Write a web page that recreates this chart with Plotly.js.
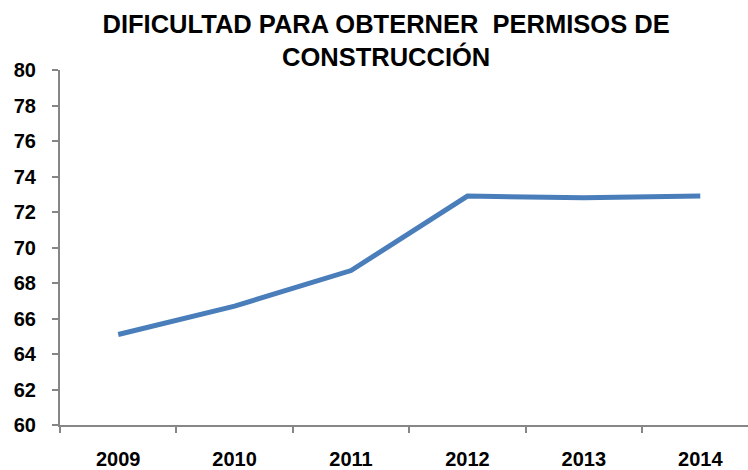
<!DOCTYPE html>
<html><head><meta charset="utf-8">
<script src="https://cdn.plot.ly/plotly-3.0.1.min.js"></script>
<style>html,body{margin:0;padding:0;background:#fff}#c{width:748px;height:470px}</style>
</head><body><div id="c"></div>
<script>
const years = ['2009','2010','2011','2012','2013','2014'];
const values = [65.1, 66.7, 68.7, 72.9, 72.8, 72.9];
const yTicks = [60,62,64,66,68,70,72,74,76,78,80];

const trace = {
  x: years, y: values, type: 'scatter', mode: 'lines',
  line: {color: '#4a7ebb', width: 5}, hoverinfo: 'skip'
};
const layout = {
  width: 748, height: 470,
  margin: {l: 60, r: 0, t: 70, b: 45},
  paper_bgcolor: '#fff', plot_bgcolor: '#fff',
  showlegend: false,
  font: {family: 'Liberation Sans, Arial, sans-serif', color: '#000'},
  title: {
    text: '<b>DIFICULTAD PARA OBTERNER  PERMISOS DE<br>CONSTRUCCIÓN</b>',
    font: {size: 25.5, family: 'Liberation Sans, Arial, sans-serif', color: '#000'},
    x: 0.474, xref: 'paper', xanchor: 'center', y: 0.93, yanchor: 'top', yref: 'container'
  },
  xaxis: {
    type: 'category', range: [-0.5, 5.41],
    tickson: 'boundaries', ticks: 'outside', ticklen: 6, tickcolor: '#868686', tickwidth: 2,
    showline: true, linecolor: '#868686', linewidth: 2,
    showgrid: false, zeroline: false,
    tickfont: {size: 20, family: 'Liberation Sans, Arial, sans-serif', weight: 'bold'},
    ticklabelstandoff: 15
  },
  yaxis: {
    range: [60, 80], tickvals: yTicks, ticktext: yTicks.map(String),
    ticks: 'outside', ticklen: 6, tickcolor: '#868686', tickwidth: 2,
    showline: true, linecolor: '#868686', linewidth: 2,
    showgrid: false, zeroline: false,
    tickfont: {size: 20, family: 'Liberation Sans, Arial, sans-serif', weight: 'bold'},
    ticklabelstandoff: 12
  }
};
Plotly.newPlot('c', [trace], layout, {staticPlot: true, displayModeBar: false});
</script></body></html>
